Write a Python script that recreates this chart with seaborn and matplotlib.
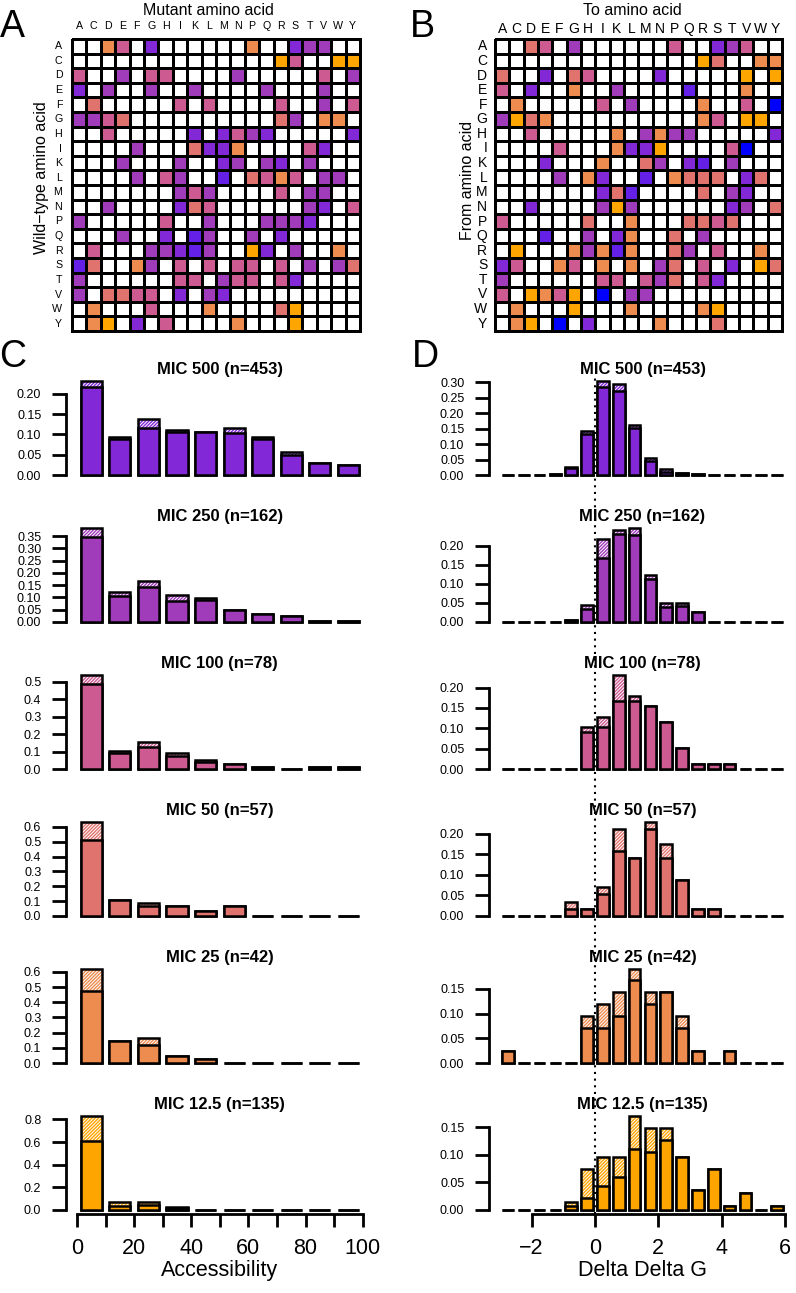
import numpy as np
import pandas as pd
import matplotlib
matplotlib.use("Agg")
import matplotlib.pyplot as plt
import seaborn as sns
from matplotlib.colors import ListedColormap
from matplotlib.lines import Line2D

# ---------------- data ----------------
amino_acids = list("ACDEFGHIKLMNPQRSTVWY")

# cell colour codes: 0 empty, 1 MIC500, 2 MIC250, 3 MIC100, 4 MIC50, 5 MIC25, 6 MIC12.5, 7 violet, 8 blue
grid_A_rows = [
    "00530100000050012200",  # A
    "00000000000000630066",  # C
    "30020330000200000302",  # D
    "10200200200002000200",  # E
    "04000003030000300203",  # F
    "22340000000000420550",  # G
    "00300000101321000001",  # H
    "00002000411500003100",  # I
    "00020002001202102000",  # K
    "00002032007043530220",  # L
    "00000002320000302200",  # M
    "00200001430000002103",  # N
    "20000030020002221000",  # P
    "00020010720020100000",  # Q
    "03000221720061020050",  # R
    "74005203030330302024",  # S
    "20000003302330310000",  # T
    "20443301021000000000",  # V
    "05000300050000460000",  # W
    "05601030000500060000",  # Y
]
grid_B_rows = [
    "00430200000030012300",  # A
    "00000000000000640055",  # C
    "40010430000100000606",  # D
    "30100500200007000500",  # E
    "05000003020000500308",  # F
    "26450000000000530660",  # G
    "00300000502522000001",  # H
    "00003000511600003800",  # I
    "00010005004201702000",  # K
    "00002051007054440140",  # L
    "00000001470000402100",  # M
    "00100002620000001204",  # N
    "30000040050004434000",  # P
    "00070020150040200000",  # Q
    "06000525750042030050",  # R
    "13005305050240301064",  # S
    "20000003303240310000",  # T
    "30653608022000000000",  # V
    "05000600050000560000",  # W
    "05608010000500040000",  # Y
]
cell_palette = ["#FFFFFF", "#8228D7", "#A03CB9", "#CD5A91", "#E1736E",
                "#EE8C50", "#FFA500", "#6420E6", "#0000FF"]

mic_titles = ["MIC 500 (n=453)", "MIC 250 (n=162)", "MIC 100 (n=78)",
              "MIC 50 (n=57)", "MIC 25 (n=42)", "MIC 12.5 (n=135)"]
mic_colors = ["#8228D7", "#A03CB9", "#CD5A91", "#E1736E", "#EE8C50", "#FFA500"]

acc_edges = [0, 10, 20, 30, 40, 50, 60, 70, 80, 90, 100]
ddg_edges = [-3.0, -2.5, -2.0, -1.5, -1.0, -0.5, 0.0, 0.5, 1.0, 1.5, 2.0,
             2.5, 3.0, 3.5, 4.0, 4.5, 5.0, 5.5, 6.0]

# Accessibility histograms (total height incl. hatched part, and solid part)
acc_total_500 = [0.232, 0.093, 0.137, 0.112, 0.107, 0.116, 0.095, 0.058, 0.029, 0.024]
acc_solid_500 = [0.217, 0.090, 0.115, 0.106, 0.107, 0.104, 0.089, 0.050, 0.029, 0.024]
acc_total_250 = [0.383, 0.124, 0.167, 0.111, 0.099, 0.049, 0.031, 0.025, 0.006, 0.006]
acc_solid_250 = [0.346, 0.105, 0.142, 0.086, 0.090, 0.049, 0.031, 0.025, 0.006, 0.006]
acc_total_100 = [0.538, 0.103, 0.154, 0.090, 0.051, 0.026, 0.013, 0.000, 0.013, 0.013]
acc_solid_100 = [0.487, 0.090, 0.128, 0.077, 0.038, 0.026, 0.013, 0.000, 0.013, 0.013]
acc_total_50 = [0.632, 0.105, 0.088, 0.070, 0.035, 0.070, 0.0, 0.0, 0.0, 0.0]
acc_solid_50 = [0.509, 0.105, 0.070, 0.070, 0.035, 0.070, 0.0, 0.0, 0.0, 0.0]
acc_total_25 = [0.619, 0.143, 0.167, 0.048, 0.024, 0.0, 0.0, 0.0, 0.0, 0.0]
acc_solid_25 = [0.476, 0.143, 0.119, 0.048, 0.024, 0.0, 0.0, 0.0, 0.0, 0.0]
acc_total_12 = [0.830, 0.067, 0.074, 0.030, 0.0, 0.0, 0.0, 0.0, 0.0, 0.0]
acc_solid_12 = [0.607, 0.037, 0.044, 0.015, 0.0, 0.0, 0.0, 0.0, 0.0, 0.0]

# Delta Delta G histograms (18 bins from -3 to 6)
ddg_total_500 = [0, 0, 0, 0.003, 0.025, 0.142, 0.304, 0.293, 0.161, 0.055, 0.019, 0.007, 0.002, 0, 0, 0, 0, 0]
ddg_solid_500 = [0, 0, 0, 0.003, 0.022, 0.132, 0.283, 0.272, 0.152, 0.044, 0.011, 0.005, 0.002, 0, 0, 0, 0, 0]
ddg_total_250 = [0, 0, 0, 0, 0.006, 0.044, 0.217, 0.241, 0.247, 0.123, 0.050, 0.051, 0.026, 0, 0, 0, 0, 0]
ddg_solid_250 = [0, 0, 0, 0, 0.006, 0.034, 0.167, 0.232, 0.228, 0.112, 0.039, 0.043, 0.026, 0, 0, 0, 0, 0]
ddg_total_100 = [0, 0, 0, 0, 0, 0.103, 0.128, 0.231, 0.179, 0.154, 0.115, 0.051, 0.013, 0.013, 0.013, 0, 0, 0]
ddg_solid_100 = [0, 0, 0, 0, 0, 0.090, 0.103, 0.167, 0.167, 0.154, 0.115, 0.051, 0.013, 0.013, 0.013, 0, 0, 0]
ddg_total_50 = [0, 0, 0, 0, 0.035, 0.0175, 0.070, 0.211, 0.140, 0.228, 0.175, 0.088, 0.0175, 0.0175, 0, 0, 0, 0]
ddg_solid_50 = [0, 0, 0, 0, 0.0175, 0.0175, 0.053, 0.158, 0.140, 0.211, 0.140, 0.088, 0.0175, 0.0175, 0, 0, 0, 0]
ddg_total_25 = [0.024, 0, 0, 0, 0, 0.095, 0.119, 0.143, 0.190, 0.143, 0.143, 0.095, 0.024, 0, 0.024, 0, 0, 0]
ddg_solid_25 = [0.024, 0, 0, 0, 0, 0.071, 0.071, 0.095, 0.167, 0.119, 0.143, 0.071, 0.024, 0, 0.024, 0, 0, 0]
ddg_total_12 = [0, 0, 0, 0, 0.015, 0.074, 0.096, 0.096, 0.170, 0.148, 0.148, 0.096, 0.037, 0.074, 0.007, 0.030, 0, 0.007]
ddg_solid_12 = [0, 0, 0, 0, 0.007, 0.022, 0.044, 0.059, 0.111, 0.104, 0.126, 0.096, 0.037, 0.074, 0.007, 0.030, 0, 0.007]

acc_yticks = [[0, 0.05, 0.10, 0.15, 0.20],
              [0, 0.05, 0.10, 0.15, 0.20, 0.25, 0.30, 0.35],
              [0, 0.1, 0.2, 0.3, 0.4, 0.5],
              [0, 0.1, 0.2, 0.3, 0.4, 0.5, 0.6],
              [0, 0.1, 0.2, 0.3, 0.4, 0.5, 0.6],
              [0, 0.2, 0.4, 0.6, 0.8]]
acc_fmt = ["%.2f", "%.2f", "%.1f", "%.1f", "%.1f", "%.1f"]
ddg_yticks = [[0, 0.05, 0.10, 0.15, 0.20, 0.25, 0.30],
              [0, 0.05, 0.10, 0.15, 0.20],
              [0, 0.05, 0.10, 0.15, 0.20],
              [0, 0.05, 0.10, 0.15, 0.20],
              [0, 0.05, 0.10, 0.15],
              [0, 0.05, 0.10, 0.15]]
acc_xticks = [0, 10, 20, 30, 40, 50, 60, 70, 80, 90, 100]
acc_xlabels = ["0", "", "20", "", "40", "", "60", "", "80", "", "100"]
ddg_xticks = [-2, 0, 2, 4, 6]

acc_totals = [acc_total_500, acc_total_250, acc_total_100, acc_total_50, acc_total_25, acc_total_12]
acc_solids = [acc_solid_500, acc_solid_250, acc_solid_100, acc_solid_50, acc_solid_25, acc_solid_12]
ddg_totals = [ddg_total_500, ddg_total_250, ddg_total_100, ddg_total_50, ddg_total_25, ddg_total_12]
ddg_solids = [ddg_solid_500, ddg_solid_250, ddg_solid_100, ddg_solid_50, ddg_solid_25, ddg_solid_12]

# ---------------- style ----------------
sns.set_theme(style="ticks", rc={
    "axes.edgecolor": "black", "xtick.color": "black", "ytick.color": "black",
    "text.color": "black", "axes.labelcolor": "black", "axes.linewidth": 2.0,
    "hatch.linewidth": 1.0,
})
plt.rcParams['font.family'] = ['Liberation Sans', 'DejaVu Sans']

W, H = 796, 1293
fig = plt.figure(figsize=(W / 100, H / 100), dpi=100)
fig.patch.set_facecolor("white")


def px_axes(left, top, width, height):
    return fig.add_axes([left / W, 1 - (top + height) / H, width / W, height / H])


cmap = ListedColormap(cell_palette)


def grid_panel(ax, rows, lab_size, xpad, ypad):
    mat = np.array([[int(c) for c in r] for r in rows])
    df = pd.DataFrame(mat, index=amino_acids, columns=amino_acids)
    sns.heatmap(df, ax=ax, cmap=cmap, vmin=-0.5, vmax=8.5, cbar=False,
                linewidths=1.9, linecolor="black", square=False,
                xticklabels=amino_acids, yticklabels=amino_acids)
    ax.collections[0].set_clip_on(False)
    ax.xaxis.tick_top()
    ax.tick_params(axis="both", length=0, labelsize=lab_size)
    ax.tick_params(axis="x", pad=xpad, top=True, bottom=False)
    ax.tick_params(axis="y", pad=ypad, left=True)
    plt.setp(ax.get_xticklabels(), rotation=0)
    plt.setp(ax.get_yticklabels(), rotation=0)
    ax.set_xlabel("")
    ax.set_ylabel("")


axA = px_axes(72, 39, 288, 292)
grid_panel(axA, grid_A_rows, 7.7, 5.5, 7)
axB = px_axes(495, 39, 287, 292)
grid_panel(axB, grid_B_rows, 10, 2.0, 5.5)

fig.text(208 / W, 1 - 10.5 / H, "Mutant amino acid", ha="center", va="center", fontsize=11.5)
fig.text(632 / W, 1 - 10.5 / H, "To amino acid", ha="center", va="center", fontsize=11.5)
fig.text(42 / W, 1 - 178 / H, "Wild\u2212type amino acid", ha="center", va="center",
         rotation=90, fontsize=11.5)
fig.text(467 / W, 1 - 180 / H, "From amino acid", ha="center", va="center",
         rotation=90, fontsize=11.5)

for letter, x, y in [("A", 0, 37), ("B", 410, 37), ("C", -1, 367), ("D", 412, 367)]:
    fig.text(x / W, 1 - y / H, letter, ha="left", va="baseline", fontsize=27)

baselines = [475, 622, 769, 916, 1063, 1210]
bar_px = 94.0


def hist_panel(ax, edges, total, solid, color):
    centers = [(edges[k] + edges[k + 1]) / 2 for k in range(len(edges) - 1)]
    sns.histplot(x=centers, weights=total, bins=edges, shrink=0.74, ax=ax,
                 facecolor="white", edgecolor=color, linewidth=0, hatch="//////////")
    sns.histplot(x=centers, weights=total, bins=edges, shrink=0.74, ax=ax,
                 facecolor="none", edgecolor="black", linewidth=1.8)
    sns.histplot(x=centers, weights=solid, bins=edges, shrink=0.74, ax=ax,
                 facecolor=color, edgecolor="black", linewidth=1.8)
    ymax = max(total)
    ax.set_ylim(-0.04 * ymax, 1.04 * ymax)
    ax.set_xlabel("")
    ax.set_ylabel("")


axes_D = []
for i in range(6):
    b = baselines[i]
    top = b + 0.04 * bar_px - 1.08 * bar_px
    last = (i == 5)
    # ---- panel C ----
    axc = px_axes(65.6, top, 308.5, 1.08 * bar_px)
    hist_panel(axc, acc_edges, acc_totals[i], acc_solids[i], mic_colors[i])
    axc.set_xlim(-4, 104)
    axc.set_yticks(acc_yticks[i])
    axc.set_yticklabels([acc_fmt[i] % t for t in acc_yticks[i]])
    axc.spines["left"].set_bounds(0, acc_yticks[i][-1])
    # ---- panel D ----
    axd = px_axes(488.6, top, 307.8, 1.08 * bar_px)
    axd.patch.set_visible(False)
    hist_panel(axd, ddg_edges, ddg_totals[i], ddg_solids[i], mic_colors[i])
    axd.set_xlim(-3.36, 6.36)
    axd.set_yticks(ddg_yticks[i])
    axd.set_yticklabels(["%.2f" % t for t in ddg_yticks[i]])
    axd.spines["left"].set_bounds(0, ddg_yticks[i][-1])
    axes_D.append(axd)

    for ax in (axc, axd):
        ax.set_title(mic_titles[i], fontsize=12, fontweight="bold", pad=2)
        ax.spines["top"].set_visible(False)
        ax.spines["right"].set_visible(False)
        ax.spines["left"].set_linewidth(2.0)
        ax.tick_params(axis="y", length=10, width=2.0, labelsize=9, pad=7.5, left=True)
        if last:
            ax.spines["bottom"].set_linewidth(2.0)
            ax.tick_params(axis="x", length=9.5, width=2.0, labelsize=15.5, pad=8, bottom=True)
        else:
            ax.spines["bottom"].set_visible(False)
            ax.set_xticks([])
    if last:
        axc.set_xticks(acc_xticks)
        axc.set_xticklabels(acc_xlabels)
        axc.spines["bottom"].set_bounds(0, 100)
        axc.set_xlabel("Accessibility", fontsize=15.5, labelpad=1)
        axd.set_xticks(ddg_xticks)
        axd.set_xticklabels(["\u22122", "0", "2", "4", "6"])
        axd.spines["bottom"].set_bounds(-2, 6)
        axd.set_xlabel("Delta Delta G", fontsize=15.5, labelpad=1)

# dotted reference line at Delta Delta G = 0 across all D panels
x0 = axes_D[0].transData.transform((0, 0))[0] / fig.bbox.width
y_top = axes_D[0].get_position().y1
y_bot = axes_D[-1].get_position().y0
fig.add_artist(Line2D([x0, x0], [y_bot, y_top], transform=fig.transFigure,
                      color="black", lw=1.5, linestyle=(0, (1, 2.2)), zorder=-1))

fig.savefig("out.png", dpi=100)
